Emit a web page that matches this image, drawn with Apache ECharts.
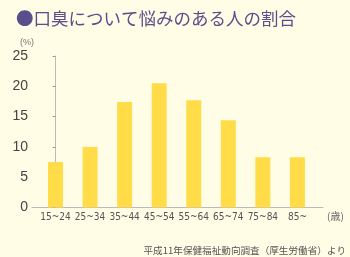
<!DOCTYPE html>
<html><head><meta charset="utf-8">
<script src="https://cdn.jsdelivr.net/npm/echarts@6/dist/echarts.min.js"></script>
<style>html,body{margin:0;padding:0;background:#fffde6}#c{width:350px;height:257px}</style>
</head><body><div id="c"></div>
<script>
var categories = ['15~24','25~34','35~44','45~54','55~64','65~74','75~84','85~'];
var values = [7.5, 10.0, 17.4, 20.5, 17.7, 14.4, 8.3, 8.3];
var yTicks = [0, 5, 10, 15, 20, 25];
var titleText = '●口臭について悩みのある人の割合';
var sourceText = '平成11年保健福祉動向調査（厚生労働省）より';

var idx = categories.map(function(c, i){ return i; });
var chart = echarts.init(document.getElementById('c'));
chart.setOption({
  backgroundColor: '#fffde6',
  animation: false,
  title: [{
    text: titleText, left: 16, top: 10, padding: 0,
    textStyle: {fontSize: 17.5, fontWeight: 'normal', color: '#5a4f8c', fontFamily: '"Noto Sans CJK JP", sans-serif'}
  }, {
    text: sourceText, right: 4, bottom: 2, padding: 0,
    textStyle: {fontSize: 9.6, fontWeight: 'normal', color: '#555', fontFamily: '"Noto Sans CJK JP", sans-serif'}
  }, {
    text: '(%)', left: 20, top: 38, padding: 0,
    textStyle: {fontSize: 9, fontWeight: 'normal', color: '#777', fontFamily: '"Liberation Sans", sans-serif'}
  }, {
    text: '(歳)', left: 327, top: 211, padding: 0,
    textStyle: {fontSize: 10, fontWeight: 'normal', color: '#666', fontFamily: '"Noto Sans CJK JP", sans-serif'}
  }],
  grid: {left: 32, right: 27, top: 56, bottom: 49.5},
  xAxis: {
    type: 'value', min: -0.68, max: 7.74,
    axisLine: {show: true, lineStyle: {color: '#bbb', width: 1}},
    axisTick: {show: false},
    splitLine: {show: false},
    axisLabel: {
      customValues: idx,
      formatter: function(v){ return categories[Math.round(v)]; },
      fontSize: 10, color: '#555', margin: 5,
      fontFamily: '"DejaVu Sans Condensed", "Liberation Sans Narrow", sans-serif'
    }
  },
  yAxis: {
    type: 'value', min: 0, max: 25, interval: 5,
    axisLine: {show: true, lineStyle: {color: '#bbb', width: 1}},
    axisTick: {show: true, length: 3, lineStyle: {color: '#999'}},
    splitLine: {show: false},
    axisLabel: {fontSize: 14, color: '#444', margin: 4, fontFamily: '"Liberation Sans", sans-serif',
      customValues: yTicks}
  },
  series: [{
    type: 'bar', barWidth: 15,
    itemStyle: {color: '#ffdc48'},
    data: values.map(function(v, i){ return [idx[i], v]; })
  }]
});
</script></body></html>
